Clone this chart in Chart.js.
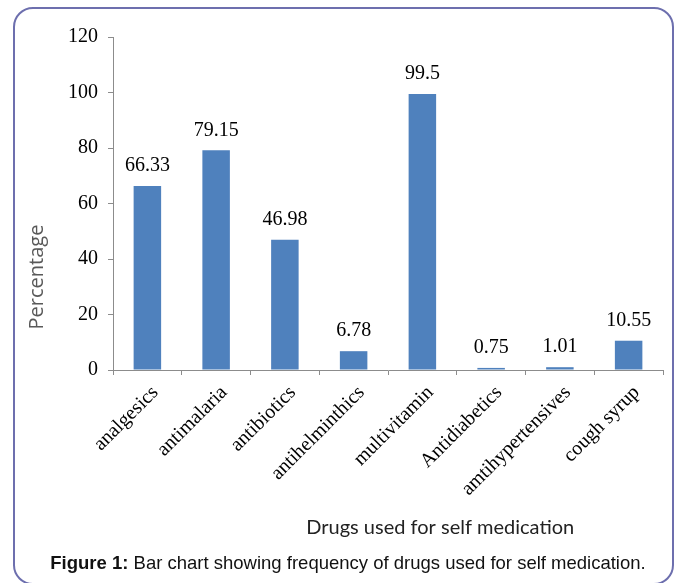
<!DOCTYPE html>
<html>
<head>
<meta charset="utf-8">
<script src="https://cdn.jsdelivr.net/npm/chart.js@4"></script>
<style>
  html, body { margin: 0; padding: 0; background: #fff; }
  #wrap { position: relative; width: 678px; height: 583px; overflow: hidden; background: #fff; }
  #frame { position: absolute; left: 13px; top: 7px; width: 661px; height: 578px; border: 2px solid #6d6fae; border-radius: 20px; box-sizing: border-box; }
  #c { position: absolute; left: 0; top: 0; }
  #caption { position: absolute; left: 0; width: 696px; top: 552px; text-align: center; font-family: "Liberation Sans", Arial, sans-serif; font-size: 18.5px; color: #111; white-space: nowrap; }
</style>
</head>
<body>
<div id="wrap">
  <div id="frame"></div>
  <canvas id="c" width="678" height="583"></canvas>
  <div id="caption"><b>Figure 1:</b> Bar chart showing frequency of drugs used for self medication.</div>
</div>
<script>
const categories = ["analgesics", "antimalaria", "antibiotics", "antihelminthics", "multivitamin", "Antidiabetics", "amtihypertensives", "cough syrup"];
const percentages = [66.33, 79.15, 46.98, 6.78, 99.5, 0.75, 1.01, 10.55];
const valueLabels = ["66.33", "79.15", "46.98", "6.78", "99.5", "0.75", "1.01", "10.55"];
const yTicks = [0, 20, 40, 60, 80, 100, 120];
const yTitle = "Percentage";
const xTitle = "Drugs used for self medication";

const serif = '"Liberation Serif", "Times New Roman", serif';

const valueLabelPlugin = {
  id: 'valueLabels',
  afterDatasetsDraw(chart) {
    const ctx = chart.ctx;
    const meta = chart.getDatasetMeta(0);
    ctx.save();
    ctx.font = '20px ' + serif;
    ctx.fillStyle = '#000';
    ctx.textAlign = 'center';
    ctx.textBaseline = 'middle';
    meta.data.forEach((bar, i) => {
      ctx.fillText(valueLabels[i], bar.x, bar.y - 20);
    });
    ctx.restore();
  }
};

const axisTitlePlugin = {
  id: 'axisTitles',
  afterDraw(chart) {
    const ctx = chart.ctx;
    const area = chart.chartArea;
    ctx.save();
    ctx.font = '20px Lato, "Open Sans", sans-serif';
    ctx.fillStyle = '#222';
    ctx.textAlign = 'center';
    ctx.textBaseline = 'middle';
    ctx.fillText(xTitle, area.left + (area.right - area.left) * 0.595, 528);
    ctx.translate(37, 277);
    ctx.rotate(-Math.PI / 2);
    ctx.font = '20px "Open Sans", "Liberation Sans", sans-serif';
    ctx.fillStyle = '#595959';
    ctx.fillText(yTitle, 0, 0);
    ctx.restore();
  }
};

new Chart(document.getElementById('c'), {
  type: 'bar',
  data: {
    labels: categories,
    datasets: [{
      data: percentages,
      backgroundColor: '#4f81bd',
      borderWidth: 0,
      categoryPercentage: 1.0,
      barPercentage: 0.4
    }]
  },
  options: {
    responsive: false,
    animation: false,
    devicePixelRatio: 1,
    layout: { padding: { left: 0, top: 37, right: 15, bottom: 0 } },
    plugins: { legend: { display: false }, tooltip: { enabled: false }, title: { display: false } },
    scales: {
      y: {
        min: 0, max: 120,
        afterFit(scale) { scale.width = 113; },
        afterBuildTicks(scale) { scale.ticks = yTicks.map(v => ({ value: v })); },
        border: { display: true, color: '#8c8c8c', width: 1 },
        grid: { display: true, drawOnChartArea: false, drawTicks: true, tickLength: 5, color: '#8c8c8c' },
        ticks: { color: '#000', font: { family: serif, size: 20 }, padding: 10 }
      },
      x: {
        afterFit(scale) { scale.height = 213; },
        border: { display: true, color: '#8c8c8c', width: 1 },
        grid: { display: true, drawOnChartArea: false, drawTicks: true, tickLength: 5, color: '#8c8c8c', offset: true },
        ticks: { color: '#000', font: { family: serif, size: 20 }, minRotation: 45, maxRotation: 45, autoSkip: false, padding: 6, labelOffset: 8 }
      }
    }
  },
  plugins: [valueLabelPlugin, axisTitlePlugin]
});
</script>
</body>
</html>
